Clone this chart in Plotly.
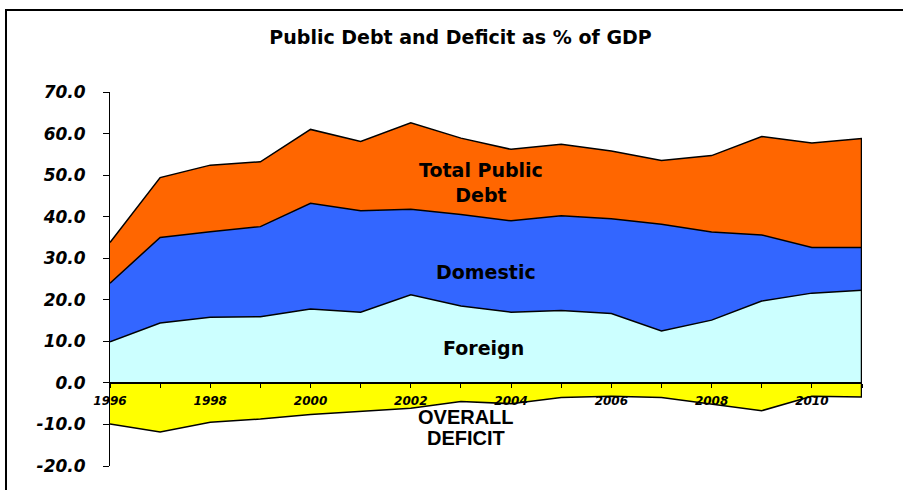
import plotly.graph_objects as go

years = list(range(1996, 2012))
foreign = [9.9, 14.4, 15.8, 15.9, 17.8, 17.0, 21.2, 18.5, 17.0, 17.4, 16.7, 12.5, 15.1, 19.7, 21.6, 22.3]
domestic = [14.1, 20.6, 20.6, 21.7, 25.4, 24.4, 20.6, 22.0, 22.0, 22.8, 22.8, 25.7, 21.2, 15.9, 11.0, 10.3]
total = [33.8, 49.4, 52.4, 53.2, 61.0, 58.1, 62.6, 58.9, 56.2, 57.4, 55.8, 53.5, 54.7, 59.3, 57.7, 58.8]
deficit = [-9.9, -11.8, -9.5, -8.7, -7.6, -6.8, -6.1, -4.5, -5.0, -3.5, -3.2, -3.5, -5.1, -6.7, -3.2, -3.4]
y_ticks = [-20, -10, 0, 10, 20, 30, 40, 50, 60, 70]

fd = [f + d for f, d in zip(foreign, domestic)]

line = dict(color="black", width=1.5)
fig = go.Figure()
fig.add_trace(go.Scatter(x=years, y=foreign, mode="lines", line=line, fill="tozeroy",
                         fillcolor="#CCFFFF", name="Foreign"))
fig.add_trace(go.Scatter(x=years, y=fd, mode="lines", line=line, fill="tonexty",
                         fillcolor="#3366FF", name="Domestic"))
fig.add_trace(go.Scatter(x=years, y=total, mode="lines", line=line, fill="tonexty",
                         fillcolor="#FF6600", name="Total Public Debt"))
fig.add_trace(go.Scatter(x=years, y=deficit, mode="lines", line=line, fill="tozeroy",
                         fillcolor="#FFFF00", name="Overall Deficit"))
# right-hand closing edge of the area polygons
fig.add_trace(go.Scatter(x=[years[-1], years[-1]], y=[total[-1], deficit[-1]], mode="lines",
                         line=dict(color="black", width=2.5)))

lab_font = dict(family="DejaVu Sans", size=19, color="black", weight="bold")
fig.add_annotation(x=2003.4, y=48.2, text="Total Public<br>Debt", showarrow=False, font=lab_font)
fig.add_annotation(x=2003.5, y=26.7, text="Domestic", showarrow=False, font=lab_font)
fig.add_annotation(x=2003.46, y=8.4, text="Foreign", showarrow=False, font=lab_font)
def_font = dict(family="Liberation Sans", size=20, color="black", weight="bold")
fig.add_annotation(x=2003.1, y=-8.1, text="OVERALL", showarrow=False, font=def_font)
fig.add_annotation(x=2003.1, y=-13.3, text="DEFICIT", showarrow=False, font=def_font)

fig.update_layout(
    width=903, height=490,
    margin=dict(l=110, r=41, t=92, b=24),
    paper_bgcolor="white", plot_bgcolor="white",
    showlegend=False,
    title=dict(text="Public Debt and Deficit as % of GDP", x=0.51, xanchor="center",
               y=1 - 37 / 490, yanchor="middle",
               font=dict(family="DejaVu Sans", size=19, color="black", weight="bold")),
    shapes=[dict(type="rect", xref="paper", yref="paper", x0=-0.1383, x1=1.2,
                 y0=-0.2, y1=1.2193, line=dict(color="black", width=2), layer="above")],
)
fig.update_xaxes(range=[1996, 2011], tickmode="array", tickvals=years,
                 ticktext=[str(y) if y % 2 == 0 else "" for y in years],
                 showgrid=False, zeroline=False, showline=True, linecolor="black", linewidth=1.5,
                 anchor="free", position=20 / 90, ticks="outside", ticklen=4, tickcolor="black",
                 ticklabelstandoff=3,
                 tickfont=dict(family="DejaVu Sans", size=12, color="black", weight="bold", style="italic"))
fig.update_yaxes(range=[-20, 70], tickmode="array", tickvals=y_ticks,
                 ticktext=[f"{v:.1f}" for v in y_ticks],
                 showgrid=False, zeroline=False, showline=True, linecolor="black", linewidth=1,
                 ticks="outside", ticklen=6, tickcolor="black", ticklabelstandoff=14,
                 tickfont=dict(family="DejaVu Sans", size=17, color="black", weight="bold", style="italic"))

fig.write_html("out.html")
